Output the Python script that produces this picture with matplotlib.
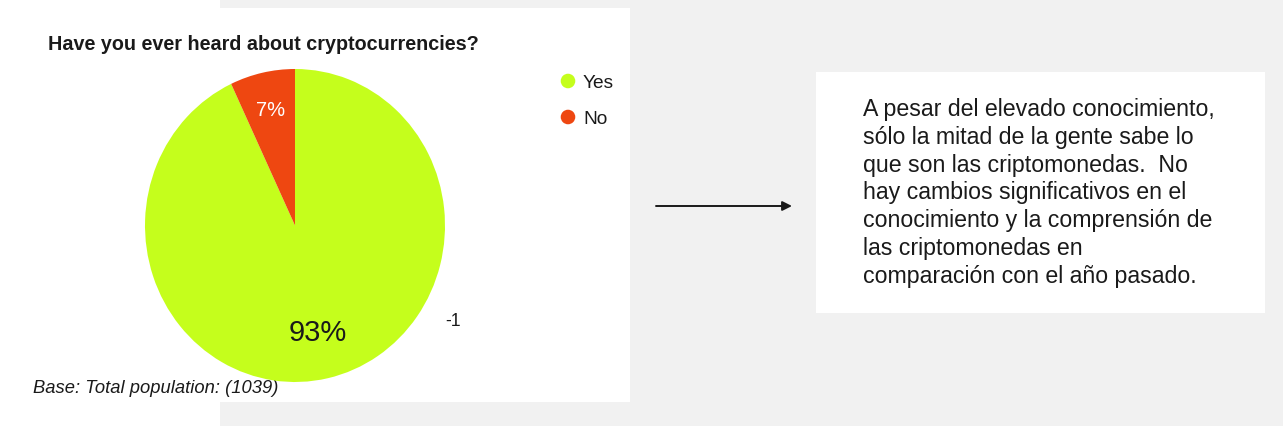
import numpy as np
import matplotlib
matplotlib.use('Agg')
import matplotlib.pyplot as plt
from matplotlib.patches import Polygon, Rectangle

plt.rcParams['font.family'] = ['Liberation Sans', 'DejaVu Sans']

W, H = 1283, 427
BG = '#f1f1f1'
INK = '#1a1a1a'

# ── data ────────────────────────────────────────────────────────────────
labels = ['Yes', 'No']
values = [93, 7]
colors = ['#c5fe1c', '#ee4711']
title = 'Have you ever heard about cryptocurrencies?'
base_note = 'Base: Total population: (1039)'
stray_label = '-1'
note_lines = [
    'A pesar del elevado conocimiento,',
    'sólo la mitad de la gente sabe lo',
    'que son las criptomonedas.  No',
    'hay cambios significativos en el',
    'conocimiento y la comprensión de',
    'las criptomonedas en',
    'comparación con el año pasado.',
]

fig = plt.figure(figsize=(W / 100, H / 100), dpi=100, facecolor=BG)

# full-figure overlay in pixel coordinates (y down)
bg = fig.add_axes([0, 0, 1, 1], zorder=0)
bg.set_xlim(0, W)
bg.set_ylim(H, 0)
bg.axis('off')

# white chart panel (left strip runs full height)
bg.add_patch(Polygon([(0, 0), (220, 0), (220, 9), (630, 9), (630, 403),
                      (220, 403), (220, H), (0, H)],
                     closed=True, facecolor='white', edgecolor='none'))
# white note box
bg.add_patch(Rectangle((816, 73), 449, 241, facecolor='white', edgecolor='none'))

bg.text(48, 45, title, fontsize=14.2, fontweight='bold', color=INK,
        ha='left', va='center')
bg.text(33, 389, base_note, fontsize=13.2, style='italic', color=INK,
        ha='left', va='center')
bg.text(453, 322, stray_label, fontsize=12.7, color=INK, ha='center', va='center')

# legend
for i, (lab, col) in enumerate(zip(labels, colors)):
    y = 82 + i * 36
    bg.scatter([568], [y], s=110, color=col, edgecolors='none')
    bg.text(583, y + 1, lab, fontsize=13.8, color=INK, ha='left', va='center')

# arrow
bg.annotate('', xy=(792, 207), xytext=(656, 207),
            arrowprops=dict(arrowstyle='-|>', color=INK, lw=1.4,
                            mutation_scale=14, shrinkA=0, shrinkB=0))

# note text
for i, line in enumerate(note_lines):
    bg.text(863, 116 + i * 27.8, line, fontsize=16.7, color=INK,
            ha='left', va='baseline')

# ── pie ─────────────────────────────────────────────────────────────────
px0, py0, pw, ph = 145, 70, 300, 313
ax = fig.add_axes([px0 / W, (H - py0 - ph) / H, pw / W, ph / H], zorder=1)
wedges, _ = ax.pie(values, colors=colors, startangle=90, counterclock=False,
                   wedgeprops=dict(linewidth=0))
ax.set_aspect('auto')
ax.set_xlim(-1, 1)
ax.set_ylim(-1, 1)
ax.axis('off')

label_r = [0.70, 0.76]
label_fs = [21, 14.5]
label_col = [INK, 'white']
for w, v, r, fs, c in zip(wedges, values, label_r, label_fs, label_col):
    mid = np.deg2rad((w.theta1 + w.theta2) / 2)
    ax.text(r * np.cos(mid), r * np.sin(mid), f'{v}%', fontsize=fs, color=c,
            ha='center', va='center')

fig.savefig('out.png', dpi=100, facecolor=BG)
